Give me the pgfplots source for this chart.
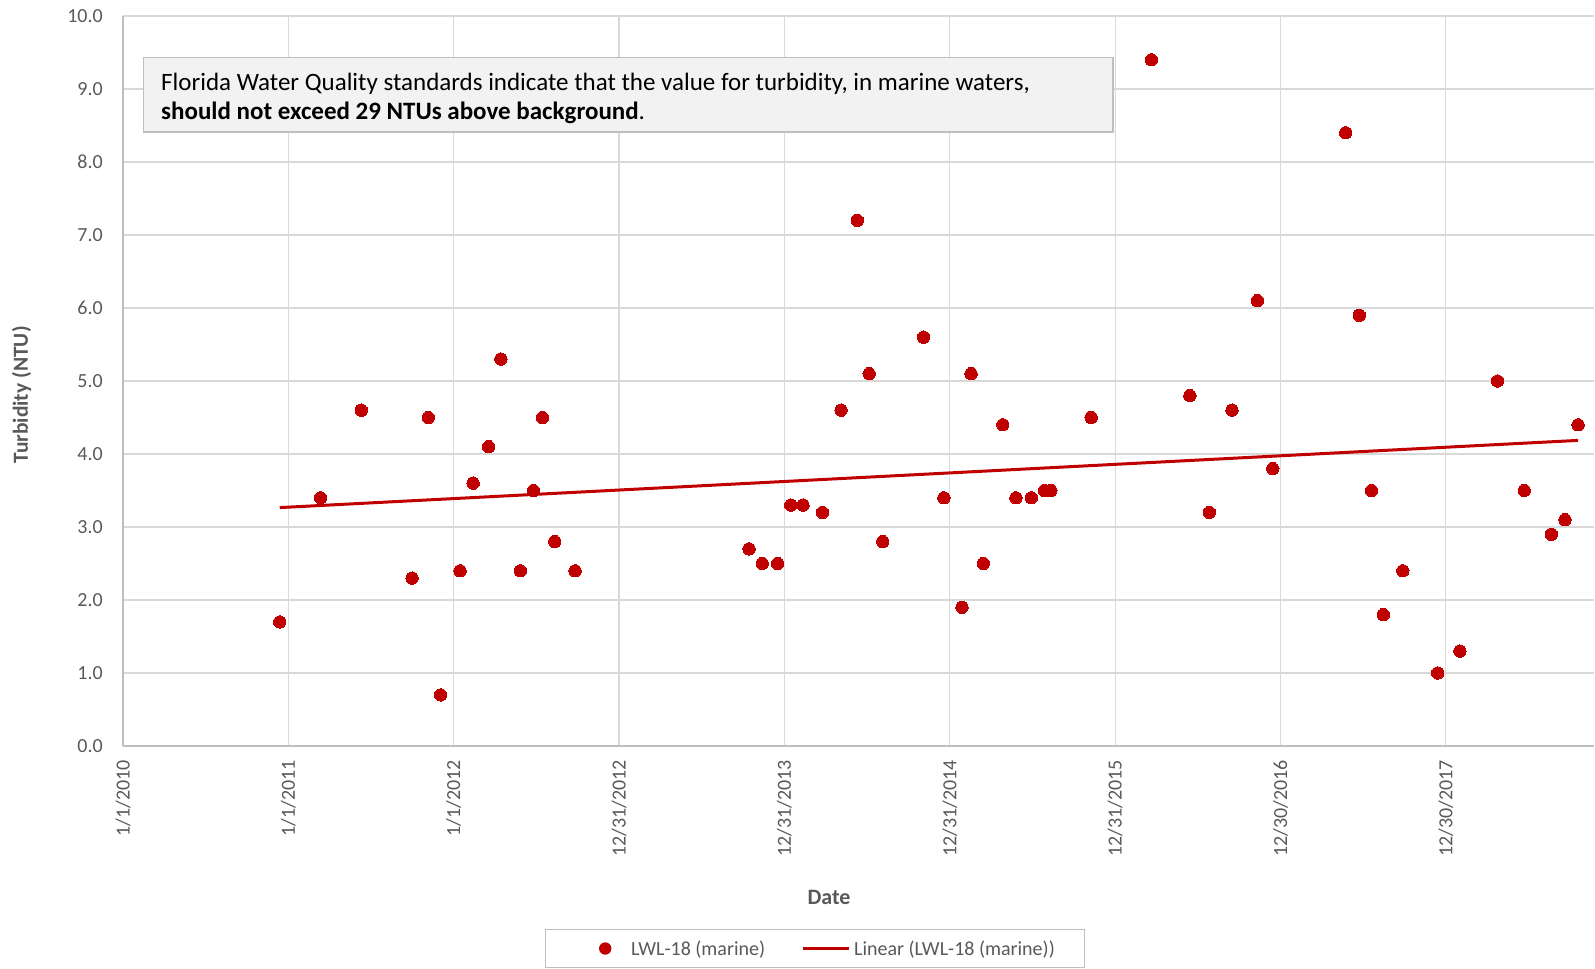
\documentclass[border=0pt]{standalone}
\usepackage{pgfplots}
\usepackage{pgfplotstable}
\pgfplotsset{compat=1.18}
\usepackage{fontspec}
\setmainfont{Carlito}
\definecolor{cred}{HTML}{C00000}
\definecolor{cgrid}{HTML}{D9D9D9}
\definecolor{caxis}{HTML}{BFBFBF}
\definecolor{ctext}{HTML}{595959}
\definecolor{cbox}{HTML}{F2F2F2}

\pgfplotstableread{
x y
346 1.7
436 3.4
526 4.6
638 2.3
674 4.5
701 0.7
744 2.4
773 3.6
807 4.1
834 5.3
877 2.4
906 3.5
926 4.5
953 2.8
998 2.4
1382 2.7
1411 2.5
1445 2.5
1474 3.3
1501 3.3
1544 3.2
1585 4.6
1621 7.2
1647 5.1
1677 2.8
1767 5.6
1812 3.4
1852 1.9
1872 5.1
1899 2.5
1942 4.4
1971 3.4
2005 3.4
2034 3.5
2048 3.5
2137 4.5
2270 9.4
2355 4.8
2398 3.2
2448 4.6
2504 6.1
2538 3.8
2699 8.4
2729 5.9
2756 3.5
2782 1.8
2825 2.4
2902 1.0
2951 1.3
3034 5.0
3093 3.5
3153 2.9
3183 3.1
3212 4.4
}\datatable

\begin{document}
\begin{tikzpicture}
\useasboundingbox (0,0) rectangle (1595bp,969bp);
\begin{axis}[
  at={(123bp,223bp)}, anchor=south west,
  scale only axis, width=1471bp, height=730bp,
  xmin=0, xmax=3247, ymin=0, ymax=10,
  axis x line*=bottom, axis y line*=left,
  axis line style={draw=caxis, line width=1.3bp},
  grid=major,
  major grid style={draw=cgrid, line width=1.2bp},
  major tick length=0pt,
  xtick={0,365,730,1095,1460,1825,2190,2555,2920},
  xticklabels={1/1/2010,1/1/2011,1/1/2012,12/31/2012,12/31/2013,12/31/2014,12/31/2015,12/30/2016,12/30/2017},
  ytick={0,1,...,10},
  yticklabel style={/pgf/number format/.cd, fixed, fixed zerofill, precision=1},
  /pgf/number format/assume math mode=true,
  tick label style={font=\fontsize{20bp}{24bp}\selectfont, text=ctext, inner sep=0pt},
  xticklabel style={rotate=90, anchor=east},
  xticklabel shift=14bp,
  yticklabel shift=20bp,
  xlabel={Date},
  ylabel={Turbidity (NTU)},
  every axis x label/.style={at={(axis description cs:0.480,-0.2069)}, anchor=center,
    font=\fontsize{22bp}{26bp}\selectfont\bfseries, text=ctext},
  every axis y label/.style={at={(axis description cs:-0.0689,0.481)}, anchor=center, rotate=90,
    font=\fontsize{21.5bp}{26bp}\selectfont\bfseries, text=ctext},
  legend columns=2,
  legend style={at={(axis description cs:0.4704,-0.2774)}, anchor=center,
    draw=caxis, line width=1bp, inner xsep=30bp, inner ysep=10bp,
    font=\fontsize{20bp}{24bp}\selectfont, text=ctext,
    nodes={inner sep=0pt, text height=15.5bp, text depth=2.5bp},
    /tikz/every odd column/.append style={column sep=4bp},
    /tikz/every even column/.append style={column sep=36bp}},
]
\addplot[only marks, mark=*, mark size=6.2bp, mark options={fill=cred, draw=cred, line width=0pt},
  legend image code/.code={\path[draw=none, fill=none] (-24bp,0bp) -- (28bp,0bp); \fill[cred, draw=none] (6.2bp,0bp) circle (6.2bp);}]
  table[x=x, y=y] {\datatable};
\addlegendentry{LWL-18 (marine)}
\addplot[cred, line width=3bp, no marks,
  legend image code/.code={\draw[cred, line width=3bp] (0bp,0bp) -- (46bp,0bp);}]
  table[x=x, y={create col/linear regression={y=y}}] {\datatable};
\addlegendentry{Linear (LWL-18 (marine))}
\end{axis}
\draw[fill=cbox, draw=caxis, line width=1.3bp] (143.5bp,837bp) rectangle (1113bp,911.5bp);
\node[anchor=base west, inner sep=0pt, font=\fontsize{25bp}{30bp}\selectfont] at (161bp,878.3bp)
  {Florida Water Quality standards indicate that the value for turbidity, in marine waters,};
\node[anchor=base west, inner sep=0pt, font=\fontsize{25bp}{30bp}\selectfont] at (161bp,849bp)
  {\textbf{should not exceed 29 NTUs above background}.};
\end{tikzpicture}
\end{document}
